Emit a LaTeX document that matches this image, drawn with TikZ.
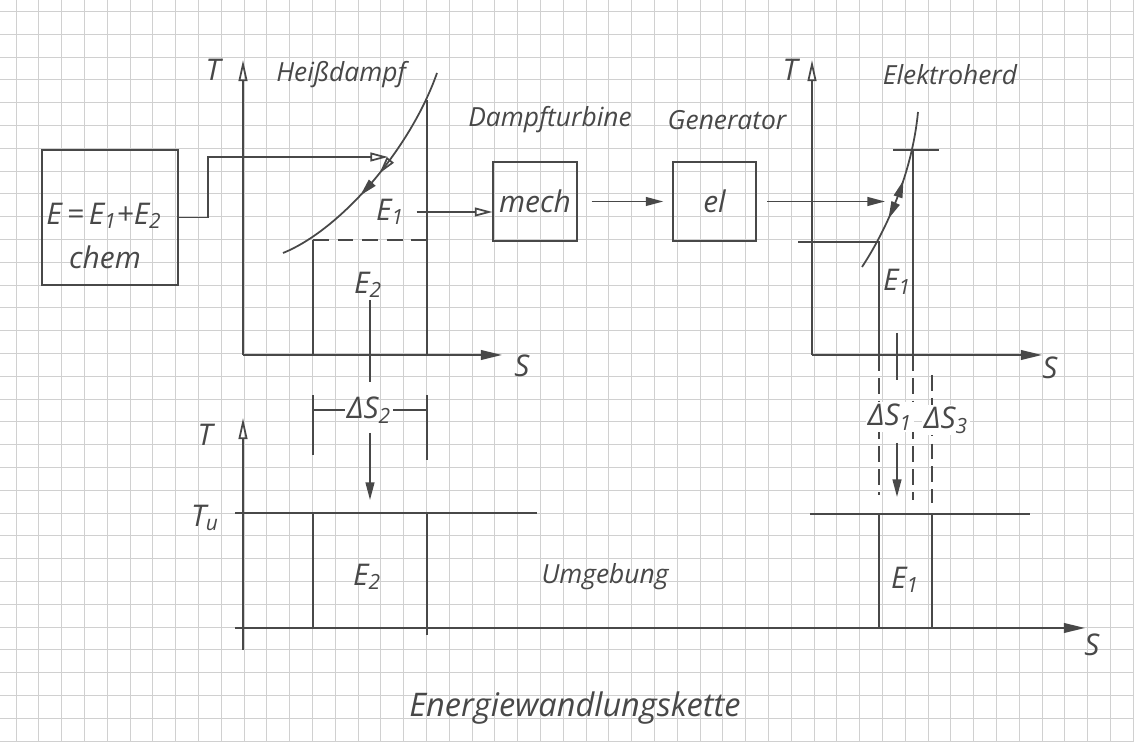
\documentclass[tikz,border=0pt]{standalone}
\usepackage{fontspec}
\setmainfont{Open Sans}
\usepackage{tikz}
\usetikzlibrary{calc}
\usetikzlibrary{positioning, decorations.markings}
\usetikzlibrary{arrows, arrows.meta}

\definecolor{pencil}{RGB}{72,72,72}
\definecolor{paper}{RGB}{208,208,208}

\begin{document}
\begin{tikzpicture}[
    x=0.02cm, y=-0.02cm,
    lbl/.style={text=pencil, font=\fontsize{15}{18}\selectfont\itshape, inner sep=1pt},
    big/.style={lbl, font=\fontsize{17}{20}\selectfont\itshape},
    line/.style={draw=pencil, line width=1pt},
    box/.style={line, rectangle, text=pencil, font=\fontsize{17}{20}\selectfont\itshape},
    flow/.style={line, -{Triangle[open, length=10pt, width=5pt]}},
    flowf/.style={line, -{Triangle[length=10pt, width=5pt]}},
    axisT/.style={line, -{Triangle[open, length=12pt, width=5pt]}},
    axisS/.style={line, -{Triangle[length=12pt, width=5.5pt]}},
    gridline/.style={draw=paper, line width=0.4pt}
]

    \useasboundingbox (0,0) rectangle (1134,742);
    \fill[white] (0,0) rectangle (1134,742);

    % --- Karopapier
    \foreach \k in {-11,...,39}
        \draw[gridline] ({244+\k*22.8},0) -- ({244+\k*22.8},742);
    \foreach \k in {-22,...,10}
        \draw[gridline] (0,{513+\k*22.8}) -- (1134,{513+\k*22.8});

    % --- chemische Energie
    \node[box, minimum width=2.72cm, minimum height=2.7cm] (Chem) at (110,217.5) {};
    \node[big] (Esum) at (104,216) {E\,=\,E\textsubscript{1}+E\textsubscript{2}};
    \node[big] (chem) at (105,257) {chem};

    % --- T-S Diagramm Heissdampf
    \coordinate (Oa) at (243,355);
    \coordinate (Ta) at (243,60);
    \coordinate (Sa) at (502,355);
    \draw[axisT] (Oa) -- (Ta);
    \draw[axisS] (Oa) -- (Sa);
    \node[big] (TaL) at (213,70) {T};
    \node[big] (SaL) at (522,366) {S};
    \node[lbl] (Hot) at (341,75) {Heißdampf};

    \coordinate (Ao1) at (313,240);
    \coordinate (Ao2) at (313,355);
    \coordinate (Bo1) at (427,100);
    \coordinate (Bo2) at (427,355);
    \draw[line] (Ao1) -- (Ao2);
    \draw[line] (Bo1) -- (Bo2);
    \draw[line, dashed, dash pattern=on 9pt off 5pt] (Ao1) -- (Ao1 -| Bo1);

    \coordinate (Ca) at (283,253);
    \coordinate (Cb) at (437,73);
    \draw[line, postaction={decorate}, decoration={markings,
        mark=at position 0.40 with {\arrowreversed{Triangle[length=10pt, width=5pt]}},
        mark=at position 0.52 with {\arrowreversed{Triangle[open, length=10pt, width=5pt]}}}]
        (Ca) .. controls (340,230) and (410,150) .. (Cb);

    \coordinate (Ha) at (388,157);
    \draw[flow] (Chem.east) -- ++(29,0) |- (Ha);

    \node[big] (E1a) at (390,212) {E\textsubscript{1}};
    \node[big] (E2a) at (368,285) {E\textsubscript{2}};

    % --- Dampfturbine und Generator
    \node[box, minimum width=1.64cm, minimum height=1.58cm] (mech) at (535,201.5) {mech};
    \node[box, minimum width=1.66cm, minimum height=1.58cm] (el) at (714.5,201.5) {el};
    \node[lbl] (Turb) at (550,120) {Dampfturbine};
    \node[lbl] (Gen) at (727,120) {Generator};

    \draw[flow, shorten <=6pt] (E1a.east) -- (E1a.east -| mech.west);
    \draw[flowf, shorten <=8pt, shorten >=5pt] (mech.east) -- (el.west);

    % --- T-S Diagramm Elektroherd
    \coordinate (Ob) at (812,355);
    \coordinate (Tb) at (812,60);
    \coordinate (Sb) at (1042,355);
    \draw[axisT] (Ob) -- (Tb);
    \draw[axisS] (Ob) -- (Sb);
    \node[big] (TbL) at (790,70) {T};
    \node[big] (SbL) at (1050,368) {S};
    \node[lbl] (Herd) at (950,75) {Elektroherd};

    \coordinate (Do0) at (798,242);
    \coordinate (Do1) at (879,242);
    \coordinate (Do2) at (879,355);
    \coordinate (Do3) at (879,495);
    \coordinate (Eo1) at (913,150);
    \coordinate (Eo2) at (913,355);
    \coordinate (Eo3) at (913,500);
    \coordinate (Fo1) at (893,150);
    \coordinate (Fo2) at (939,150);
    \coordinate (Go1) at (932,375);
    \coordinate (Go2) at (932,503);
    \draw[line] (Do0) -- (Do1) -- (Do2);
    \draw[line] (Eo1) -- (Eo2);
    \draw[line] (Fo1) -- (Fo2);
    \draw[line, dashed, dash pattern=on 9pt off 4pt] (Do2) -- (Do3);
    \draw[line, dashed, dash pattern=on 9pt off 4pt] (Eo2) -- (Eo3);
    \draw[line, dashed, dash pattern=on 9pt off 4pt] (Go1) -- (Go2);

    \coordinate (Cc) at (862,267);
    \coordinate (Cd) at (918,112);
    \draw[line, postaction={decorate}, decoration={markings,
        mark=at position 0.33 with {\arrowreversed{Triangle[length=10pt, width=5pt]}},
        mark=at position 0.58 with {\arrow{Triangle[length=10pt, width=5pt]}}}]
        (Cc) .. controls (885,232) and (912,175) .. (Cd);

    \coordinate (Hb) at (885,201.5);
    \draw[flowf, shorten <=6pt] (el.east) -- (Hb);

    \node[big] (E1b) at (897,282) {E\textsubscript{1}};

    \coordinate (Ro1) at (897,333);
    \coordinate (Ro2) at (897,380);
    \coordinate (Ro3) at (897,443);
    \coordinate (Ro4) at (897,497);
    \draw[line] (Ro1) -- (Ro2);
    \draw[flowf] (Ro3) -- (Ro4);
    \node[big, fill=white] (dS1) at (890,417) {ΔS\textsubscript{1}};
    \node[big, fill=white] (dS3) at (946,420) {ΔS\textsubscript{3}};

    % --- Umgebung
    \coordinate (Oc) at (243,650);
    \coordinate (Tc) at (243,418);
    \coordinate (Sc0) at (235,628);
    \coordinate (Sc) at (1085,628);
    \draw[axisT] (Oc) -- (Tc);
    \draw[axisS] (Sc0) -- (Sc);
    \node[big] (TcL) at (205,435) {T};
    \node[big] (Tu) at (205,518) {T\textsubscript{u}};
    \node[big] (ScL) at (1092,645) {S};

    \coordinate (Uo1) at (235,513);
    \coordinate (Uo2) at (537,513);
    \coordinate (Uo3) at (810,514);
    \coordinate (Uo4) at (1030,514);
    \draw[line] (Uo1) -- (Uo2);
    \draw[line] (Uo3) -- (Uo4);

    \coordinate (Vo1) at (313,513);
    \coordinate (Vo2) at (313,628);
    \coordinate (Wo1) at (427,513);
    \coordinate (Wo2) at (427,635);
    \coordinate (Xo1) at (879,514);
    \coordinate (Xo2) at (879,628);
    \coordinate (Yo1) at (932,514);
    \coordinate (Yo2) at (932,628);
    \draw[line] (Vo1) -- (Vo2);
    \draw[line] (Wo1) -- (Wo2);
    \draw[line] (Xo1) -- (Xo2);
    \draw[line] (Yo1) -- (Yo2);

    \node[big] (E2c) at (367,577) {E\textsubscript{2}};
    \node[lbl] (Umg) at (605,577) {Umgebung};
    \node[big] (E1c) at (905,580) {E\textsubscript{1}};

    % --- Delta S2
    \coordinate (Ko1) at (313,395);
    \coordinate (Ko2) at (313,455);
    \coordinate (Lo1) at (427,395);
    \coordinate (Lo2) at (427,460);
    \coordinate (Km) at (313,410);
    \coordinate (Lm) at (427,410);
    \draw[line] (Ko1) -- (Ko2);
    \draw[line] (Lo1) -- (Lo2);
    \node[big] (dS2) at (369,410) {ΔS\textsubscript{2}};
    \draw[line] (Km) -- (dS2.west);
    \draw[line] (dS2.east) -- (Lm);

    \coordinate (Qo1) at (370,300);
    \coordinate (Qo2) at (370,382);
    \coordinate (Qo3) at (370,433);
    \coordinate (Qo4) at (370,500);
    \draw[line] (Qo1) -- (Qo2);
    \draw[flowf] (Qo3) -- (Qo4);

    % --- Titel
    \node[lbl, font=\fontsize{18.5}{22}\selectfont\itshape] (Title) at (575,708) {Energiewandlungskette};

\end{tikzpicture}
\end{document}
